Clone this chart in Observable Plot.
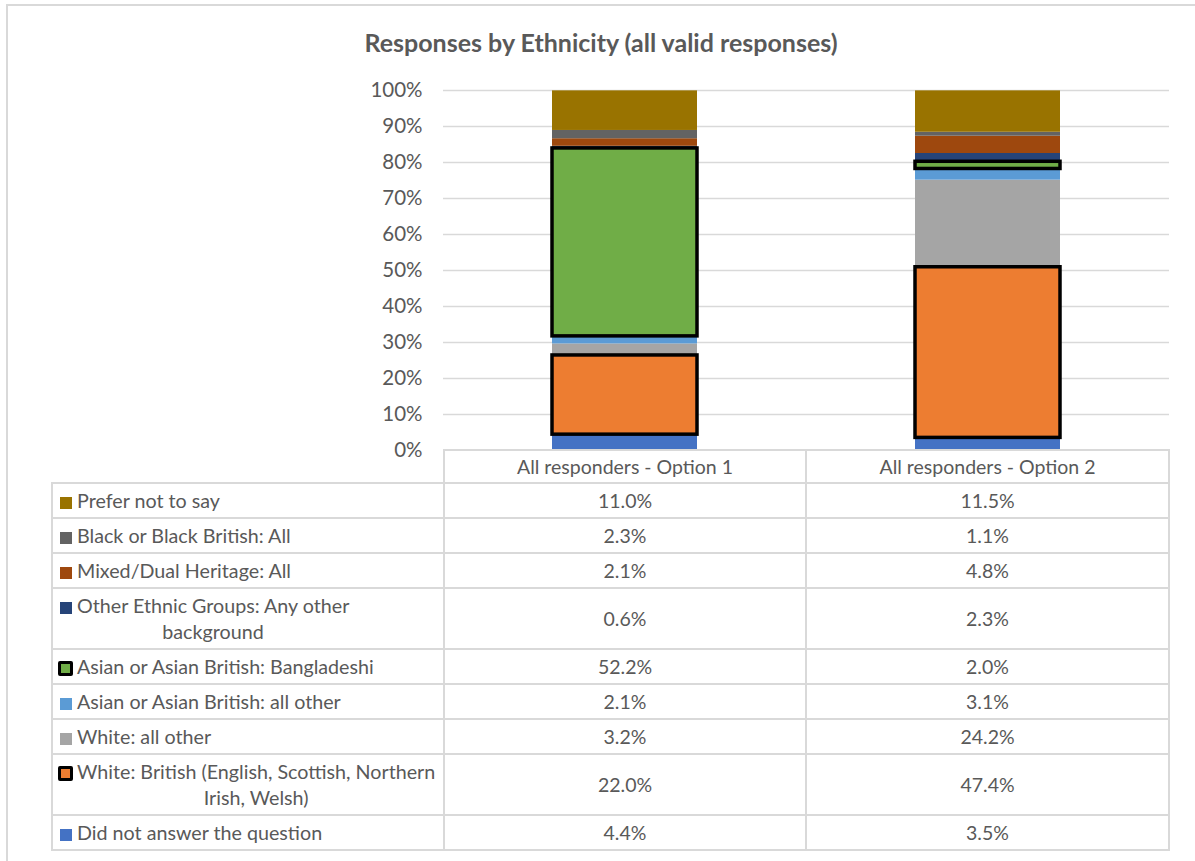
<!DOCTYPE html>
<html><head><meta charset="utf-8">
<script src="https://cdn.jsdelivr.net/npm/d3@7"></script>
<script src="https://cdn.jsdelivr.net/npm/@observablehq/plot@0.6"></script>
<style>
body{margin:0;background:#fff;overflow:hidden;width:1195px;height:861px;font-family:Lato,"Open Sans",sans-serif;color:#595959;}
#frame{position:absolute;left:6px;top:4px;width:1300px;height:1000px;border:2px solid #d9d9d9;box-sizing:border-box;}
#title{position:absolute;left:0;width:1202px;top:27px;text-align:center;font-weight:bold;font-size:25px;line-height:30px;}
#chart{position:absolute;left:0;top:0;}
#table{position:absolute;left:0;top:0;}
.cell{position:absolute;box-sizing:border-box;border:2px solid #d9d9d9;display:flex;align-items:center;justify-content:center;font-size:19.5px;background:#fff;}
.lab{position:absolute;left:60px;transform:translateY(-50%);font-size:19.7px;line-height:26px;white-space:nowrap;}
.key{display:inline-block;width:12px;height:12px;margin-right:5px;vertical-align:-1px;box-sizing:border-box;}
.key.hl{width:15px;height:15px;border:3px solid #000;margin-left:-2px;margin-right:4px;border-radius:2px;vertical-align:-2px;}
</style></head><body>
<div id="frame"></div>
<div id="title">Responses by Ethnicity (all valid responses)</div>
<div id="chart"></div>
<div id="table"></div>
<script>
// ---- data ----
const options = ["All responders - Option 1", "All responders - Option 2"];
// bottom-to-top stacking order
const categories = [
  "Did not answer the question",
  "White: British (English, Scottish, Northern Irish, Welsh)",
  "White: all other",
  "Asian or Asian British: all other",
  "Asian or Asian British: Bangladeshi",
  "Other Ethnic Groups: Any other background",
  "Mixed/Dual Heritage: All",
  "Black or Black British: All",
  "Prefer not to say"
];
const categoryLines = [
  ["Did not answer the question"],
  ["White: British (English, Scottish, Northern", "Irish, Welsh)"],
  ["White: all other"],
  ["Asian or Asian British: all other"],
  ["Asian or Asian British: Bangladeshi"],
  ["Other Ethnic Groups: Any other", "background"],
  ["Mixed/Dual Heritage: All"],
  ["Black or Black British: All"],
  ["Prefer not to say"]
];
const option1 = [4.4, 22.0, 3.2, 2.1, 52.2, 0.6, 2.1, 2.3, 11.0];
const option2 = [3.5, 47.4, 24.2, 3.1, 2.0, 2.3, 4.8, 1.1, 11.5];
const colors = ["#4472C4", "#ED7D31", "#A5A5A5", "#5B9BD5", "#70AD47", "#264478", "#9E480E", "#636363", "#997300"];
const highlighted = [
  "White: British (English, Scottish, Northern Irish, Welsh)",
  "Asian or Asian British: Bangladeshi"
];
const yTicks = [0, 10, 20, 30, 40, 50, 60, 70, 80, 90, 100];

const rows = categories.flatMap((c, i) => [
  {option: options[0], category: c, value: option1[i]},
  {option: options[1], category: c, value: option2[i]}
]);

// ---- chart ----
const chart = Plot.plot({
  width: 1195, height: 470,
  marginLeft: 443, marginRight: 26, marginTop: 90, marginBottom: 20,
  style: {background: "transparent", fontFamily: "Lato, 'Open Sans', sans-serif", fontSize: "20.5px", color: "#595959"},
  x: {domain: options, paddingInner: 0.6, paddingOuter: 0.3, axis: null},
  y: {domain: [0, 100], ticks: yTicks, tickFormat: d => d + "%", tickSize: 0, tickPadding: 21, label: null},
  color: {domain: categories, range: colors},
  marks: [
    Plot.ruleY(yTicks.filter(d => d > 0), {stroke: "#d9d9d9", strokeWidth: 1.5}),
    Plot.barY(rows, Plot.stackY({x: "option", y: "value", z: "category", fill: "category", order: categories})),
    Plot.barY(rows, Plot.stackY({x: "option", y: "value", z: "category", order: categories,
      fill: "none", stroke: "black",
      strokeWidth: d => highlighted.includes(d.category) ? 3.5 : 0}))
  ]
});
document.getElementById("chart").appendChild(chart);

// ---- data table ----
const colX = [52, 444, 806, 1169];
const rowHeights = [33, 35, 35, 35, 61, 35, 35, 35, 61, 35];
const line2Width = {"Other Ethnic Groups: Any other background": 272};
const table = document.getElementById("table");
let y = 450;
const rowTops = [];
for (const h of rowHeights) { rowTops.push(y); y += h; }
rowTops.push(y);

function cell(x0, x1, y0, y1, text) {
  const d = document.createElement("div");
  d.className = "cell";
  d.style.left = (x0 - 1) + "px";
  d.style.top = (y0 - 1) + "px";
  d.style.width = (x1 - x0 + 2) + "px";
  d.style.height = (y1 - y0 + 2) + "px";
  if (text != null) d.textContent = text;
  table.appendChild(d);
  return d;
}
// header
options.forEach((o, j) => cell(colX[j + 1], colX[j + 2], rowTops[0], rowTops[1], o));
// body: top to bottom = reverse stacking order
const fmt = v => v.toFixed(1) + "%";
const order = categories.map((c, i) => i).reverse();
order.forEach((ci, r) => {
  const y0 = rowTops[r + 1], y1 = rowTops[r + 2];
  cell(colX[0], colX[1], y0, y1, null);
  cell(colX[1], colX[2], y0, y1, fmt(option1[ci]));
  cell(colX[2], colX[3], y0, y1, fmt(option2[ci]));
  const lab = document.createElement("div");
  lab.className = "lab";
  lab.style.top = ((y0 + y1) / 2) + "px";
  const lines = categoryLines[ci];
  const l1 = document.createElement("div");
  const key = document.createElement("span");
  key.className = "key" + (highlighted.includes(categories[ci]) ? " hl" : "");
  key.style.background = colors[ci];
  l1.appendChild(key);
  l1.appendChild(document.createTextNode(lines[0]));
  lab.appendChild(l1);
  if (lines.length > 1) {
    const l2 = document.createElement("div");
    l2.textContent = lines[1];
    l2.style.marginLeft = "17px";
    l2.style.textAlign = "center";
    table.appendChild(lab);
    const w = line2Width[categories[ci]] || (l1.getBoundingClientRect().width - 17);
    l2.style.width = w + "px";
    lab.appendChild(l2);
  }
  table.appendChild(lab);
});
</script>
</body></html>
